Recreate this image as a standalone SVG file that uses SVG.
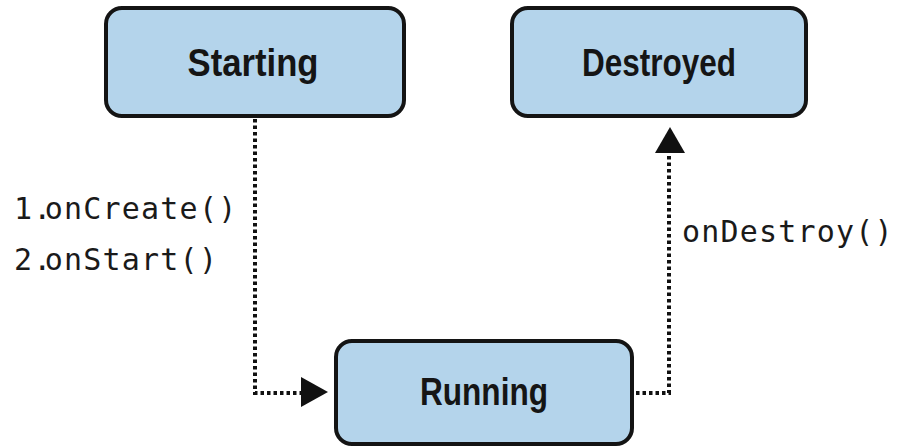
<svg xmlns="http://www.w3.org/2000/svg" width="899" height="447" viewBox="0 0 899 447">
<style>
.box{fill:#b4d4eb;stroke:#141414;stroke-width:4}
.title{font-family:"Liberation Sans",Arial,sans-serif;font-weight:bold;font-size:39px;fill:#151515;text-anchor:middle}
.lbl{font-family:"DejaVu Sans Mono","Liberation Mono",monospace;font-size:30px;fill:#1a1a1a;letter-spacing:1.2px;word-spacing:-27px}
.conn{fill:none;stroke:#111;stroke-width:4;stroke-dasharray:3.5 3}
</style>
<rect width="899" height="447" fill="#fff"/>
<g id="connectors">
<path class="conn" d="M255,119 V393 H301"/>
<polygon points="301,377 328,392 301,407" fill="#111"/>
<path class="conn" d="M636,393 H669 V154"/>
<polygon points="655,153 670,127 685,153" fill="#111"/>
</g>
<g id="labels">
<text class="lbl" x="14" y="219">1. onCreate()</text>
<text class="lbl" x="14" y="270">2. onStart()</text>
<text class="lbl" x="682" y="242">onDestroy()</text>
</g>
<g id="starting">
<rect class="box" x="106" y="8" width="298" height="108" rx="16"/>
<text class="title" x="253" y="76" textLength="131" lengthAdjust="spacingAndGlyphs">Starting</text>
</g>
<g id="destroyed">
<rect class="box" x="512" y="8" width="294" height="108" rx="16"/>
<text class="title" x="659" y="76" textLength="154" lengthAdjust="spacingAndGlyphs">Destroyed</text>
</g>
<g id="running">
<rect class="box" x="336" y="341" width="296" height="103" rx="16"/>
<text class="title" x="484" y="405" textLength="128" lengthAdjust="spacingAndGlyphs">Running</text>
</g>
</svg>
